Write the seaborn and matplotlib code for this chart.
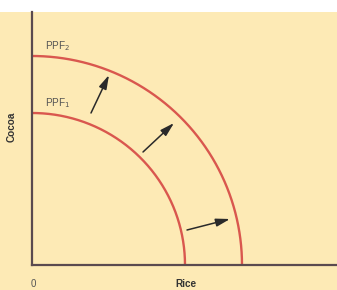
import numpy as np
import pandas as pd
import matplotlib
matplotlib.use("Agg")
import matplotlib.pyplot as plt
import seaborn as sns

# Data: frontier intercepts (rice max, cocoa max) in chart units
curves = ["PPF1", "PPF2"]
rice_max = [153, 210]
cocoa_max = [152, 209]
curve_labels = ["PPF$_1$", "PPF$_2$"]
# arrows (start rice, start cocoa, end rice, end cocoa)
arrow_start_x = [59, 111, 155]
arrow_start_y = [152, 113, 35]
arrow_end_x = [77, 142, 198]
arrow_end_y = [190, 142, 46]

sns.set_theme(style="white")
plt.rcParams['font.family'] = ['Liberation Sans', 'DejaVu Sans']

W, H = 337, 290
fig = plt.figure(figsize=(W / 100, H / 100), dpi=100)
fig.patch.set_facecolor("white")
cream = "#FDEAB5"
fig.add_artist(plt.Rectangle((0, 0), 1, 278 / H, transform=fig.transFigure,
                             facecolor=cream, edgecolor="none", zorder=0))

ax = fig.add_axes([32 / W, 25 / H, 305 / W, 253 / H])
ax.set_facecolor("none")
ax.set_xlim(0, 305)
ax.set_ylim(0, 253)

rows = []
t = np.linspace(0, np.pi / 2, 200)
for name, rx, ry in zip(curves, rice_max, cocoa_max):
    for tt in t:
        rows.append({"curve": name, "rice": rx * np.cos(tt), "cocoa": ry * np.sin(tt)})
df = pd.DataFrame(rows)
sns.lineplot(data=df, x="rice", y="cocoa", hue="curve",
             sort=False, estimator=None, palette=["#D9574E", "#D9574E"],
             linewidth=1.7, legend=False, ax=ax)

for sx, sy, ex, ey in zip(arrow_start_x, arrow_start_y, arrow_end_x, arrow_end_y):
    ax.annotate("", xy=(ex, ey), xytext=(sx, sy),
                arrowprops=dict(arrowstyle="-|>,head_length=0.7,head_width=0.2",
                                color="#2a2a2a", lw=1.1, shrinkA=0, shrinkB=0))

for lab, ry in zip(curve_labels, cocoa_max):
    ax.text(13, ry + 10, lab, fontsize=7.2, color="#555555", ha="left", va="center")

for s in ["top", "right"]:
    ax.spines[s].set_visible(False)
for s in ["left", "bottom"]:
    ax.spines[s].set_color("#5a4a4f")
    ax.spines[s].set_linewidth(1.6)
ax.set_xticks([])
ax.set_yticks([])
ax.set_xlabel("")
ax.set_ylabel("")

fig.text(12 / W, 1 - 127 / H, "Cocoa", rotation=90, fontsize=7.2, fontweight="bold",
         color="#333333", ha="center", va="center")
fig.text(33 / W, 1 / H, "0", fontsize=7, color="#555555", ha="center", va="bottom")
fig.text(186 / W, 1 / H, "Rice", fontsize=7.2, fontweight="bold", color="#333333",
         ha="center", va="bottom")

fig.savefig("out.png", dpi=100, facecolor=fig.get_facecolor())
